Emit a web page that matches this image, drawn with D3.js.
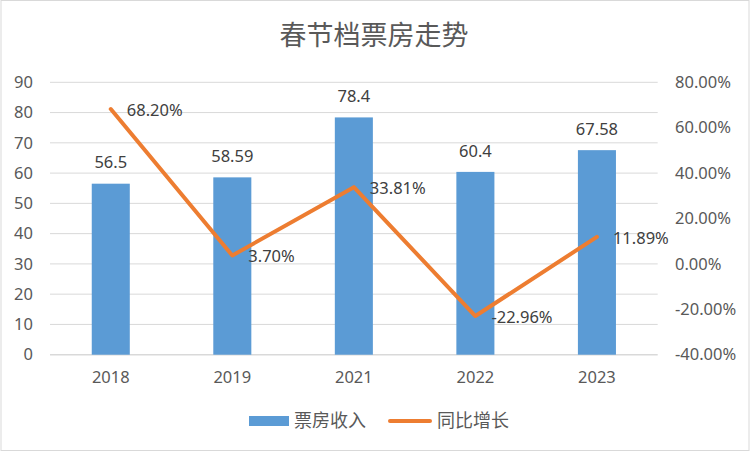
<!DOCTYPE html>
<html><head><meta charset="utf-8">
<script src="https://cdn.jsdelivr.net/npm/d3@7/dist/d3.min.js"></script>
<style>
body{margin:0;background:#fff;}
text{font-family:"Noto Sans","Noto Sans CJK SC",sans-serif;}
</style></head>
<body><svg id="c" width="751" height="452"></svg>
<script>
const categories = ["2018","2019","2021","2022","2023"];
const boxOffice = [56.5, 58.59, 78.4, 60.4, 67.58];
const growth = [68.20, 3.70, 33.81, -22.96, 11.89];
const leftTicks = [0,10,20,30,40,50,60,70,80,90];
const rightTicks = [-40,-20,0,20,40,60,80];
const title = "春节档票房走势";
const seriesNames = ["票房收入","同比增长"];

const svg = d3.select("#c");
const X0 = 50, X1 = 657.7, YT = 82.3, YB = 354.7;
const blue = "#5B9BD5", orange = "#ED7D31";

svg.append("rect").attr("x",1).attr("y",0.5).attr("width",748).attr("height",450)
  .attr("fill","#fff").attr("stroke","#d9d9d9");

const x = d3.scaleBand().domain(categories).range([X0,X1]).paddingInner(0.687).paddingOuter(0.3435);
const yL = d3.scaleLinear().domain([0,90]).range([YB,YT]);
const yR = d3.scaleLinear().domain([-40,80]).range([YB,YT]);

// gridlines
svg.append("g").selectAll("line").data(leftTicks.filter(d=>d>0)).join("line")
  .attr("x1",X0).attr("x2",X1).attr("y1",d=>yL(d)).attr("y2",d=>yL(d))
  .attr("stroke","#d9d9d9").attr("stroke-width",1);
svg.append("line").attr("x1",X0).attr("x2",X1).attr("y1",YB).attr("y2",YB)
  .attr("stroke","#d9d9d9").attr("stroke-width",1.5);

// left axis
const gl = svg.append("g").attr("transform",`translate(${X0-17},0)`)
  .call(d3.axisLeft(yL).tickValues(leftTicks).tickSize(0).tickPadding(0));
gl.select(".domain").remove();
gl.selectAll("text").attr("font-size","16.5px").attr("fill","#595959").attr("font-family",'"Noto Sans",sans-serif');

// right axis
const gr = svg.append("g").attr("transform",`translate(675,0)`)
  .call(d3.axisRight(yR).tickValues(rightTicks).tickSize(0).tickPadding(0).tickFormat(d=>d.toFixed(2)+"%"));
gr.select(".domain").remove();
gr.selectAll("text").attr("font-size","16.5px").attr("fill","#595959").attr("font-family",'"Noto Sans",sans-serif');

// bottom axis
const gb = svg.append("g").attr("transform",`translate(0,${YB})`)
  .call(d3.axisBottom(x).tickSize(0).tickPadding(17));
gb.select(".domain").remove();
gb.selectAll("text").attr("font-size","16.5px").attr("fill","#595959").attr("font-family",'"Noto Sans",sans-serif');

// bars
svg.append("g").selectAll("rect").data(boxOffice).join("rect")
  .attr("x",(d,i)=>x(categories[i])).attr("width",x.bandwidth())
  .attr("y",d=>yL(d)).attr("height",d=>YB-yL(d)).attr("fill",blue);

// bar labels
svg.append("g").selectAll("text").data(boxOffice).join("text")
  .attr("x",(d,i)=>x(categories[i])+x.bandwidth()/2).attr("y",d=>yL(d)-21)
  .attr("dy","0.35em").attr("text-anchor","middle").attr("font-size","16.5px").attr("fill","#404040")
  .text(d=>d);

// line
const cx = (i)=>x(categories[i])+x.bandwidth()/2;
const line = d3.line().x((d,i)=>cx(i)).y(d=>yR(d));
svg.append("path").datum(growth).attr("d",line).attr("fill","none")
  .attr("stroke",orange).attr("stroke-width",4).attr("stroke-linecap","round").attr("stroke-linejoin","round");

// line labels
svg.append("g").selectAll("text").data(growth).join("text")
  .attr("x",(d,i)=>cx(i)+16).attr("y",d=>yR(d)+1)
  .attr("dy","0.35em").attr("font-size","16.5px").attr("fill","#404040")
  .text(d=>d.toFixed(2)+"%");

// title
svg.append("text").attr("x",374).attr("y",36).attr("dy","0.35em").attr("text-anchor","middle")
  .attr("font-size","27px").attr("fill","#595959").attr("font-family",'"Noto Sans CJK SC",sans-serif').text(title);

// legend
const lg = svg.append("g");
lg.append("rect").attr("x",249).attr("y",416).attr("width",40).attr("height",10).attr("fill",blue);
lg.append("text").attr("x",294).attr("y",421).attr("dy","0.35em").attr("font-size","18px")
  .attr("fill","#595959").attr("font-family",'"Noto Sans CJK SC",sans-serif').text(seriesNames[0]);
lg.append("line").attr("x1",390).attr("x2",430).attr("y1",421).attr("y2",421)
  .attr("stroke",orange).attr("stroke-width",4).attr("stroke-linecap","round");
lg.append("text").attr("x",437).attr("y",421).attr("dy","0.35em").attr("font-size","18px")
  .attr("fill","#595959").attr("font-family",'"Noto Sans CJK SC",sans-serif').text(seriesNames[1]);
</script></body></html>
